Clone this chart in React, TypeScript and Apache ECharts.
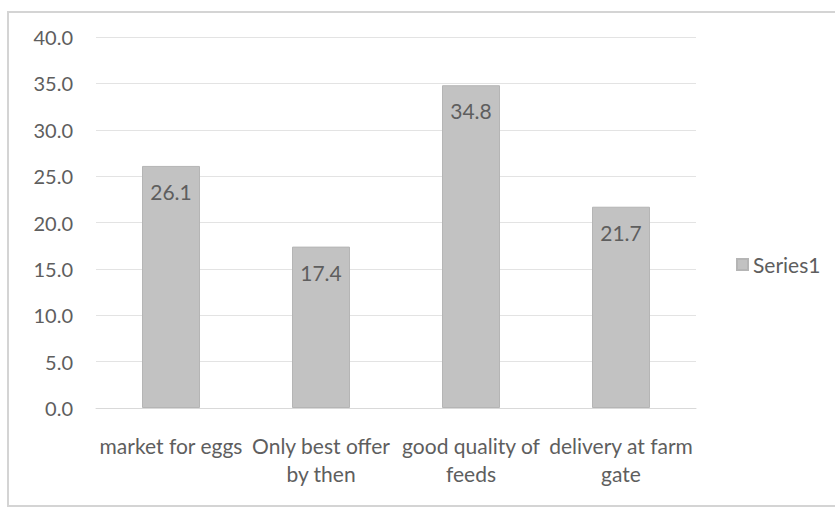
import React, { useEffect, useRef } from "react";
import * as echarts from "echarts";

const categories = [
  "market for eggs",
  "Only best offer\nby then",
  "good quality of\nfeeds",
  "delivery at farm\ngate",
];
const seriesName = "Series1";
const values = [26.1, 17.4, 34.8, 21.7];

export default function App() {
  const ref = useRef<HTMLDivElement>(null);
  useEffect(() => {
    if (!ref.current) return;
    const chart = echarts.init(ref.current, undefined, { renderer: "svg" });
    const textColor = "#5e5e5e";
    const font = "Lato, 'DejaVu Sans', sans-serif";
    chart.setOption({
      animation: false,
      backgroundColor: "#ffffff",
      textStyle: { fontFamily: font },
      graphic: [
        {
          type: "rect",
          shape: { x: 8, y: 12, width: 840, height: 494 },
          style: { fill: "none", stroke: "#d4d4d4", lineWidth: 2 },
          silent: true,
        },
      ],
      grid: { left: 96, right: 139, top: 37, bottom: 102, containLabel: false },
      legend: {
        data: [seriesName],
        orient: "vertical",
        left: 731,
        top: 249,
        itemWidth: 11,
        itemHeight: 11,
        icon: "rect",
        itemGap: 8,
        textStyle: { color: textColor, fontSize: 21, fontFamily: font },
      },
      xAxis: {
        type: "category",
        data: categories,
        axisLine: { show: true, lineStyle: { color: "#d9d9d9" } },
        axisTick: { show: false },
        axisLabel: {
          interval: 0,
          color: textColor,
          fontSize: 21,
          lineHeight: 28,
          margin: 23,
          fontFamily: font,
        },
      },
      yAxis: {
        type: "value",
        min: 0,
        max: 40,
        interval: 5,
        axisLine: { show: false },
        axisTick: { show: false },
        splitLine: { lineStyle: { color: "#e3e3e3" } },
        axisLabel: {
          color: textColor,
          fontSize: 20,
          margin: 23,
          fontFamily: font,
          formatter: (v: number) => v.toFixed(1),
        },
      },
      series: [
        {
          name: seriesName,
          type: "bar",
          data: values,
          barWidth: 58,
          itemStyle: { color: "#c2c2c2", borderColor: "#b5b5b5", borderWidth: 1 },
          label: {
            show: true,
            position: "insideTop",
            distance: 15,
            color: textColor,
            fontSize: 21,
            fontFamily: font,
            formatter: (p: any) => Number(p.value).toFixed(1),
          },
        },
      ],
    });
    return () => chart.dispose();
  }, []);
  return (
    <div
      ref={ref}
      style={{ position: "absolute", left: 0, top: 0, width: 835, height: 510 }}
    />
  );
}
